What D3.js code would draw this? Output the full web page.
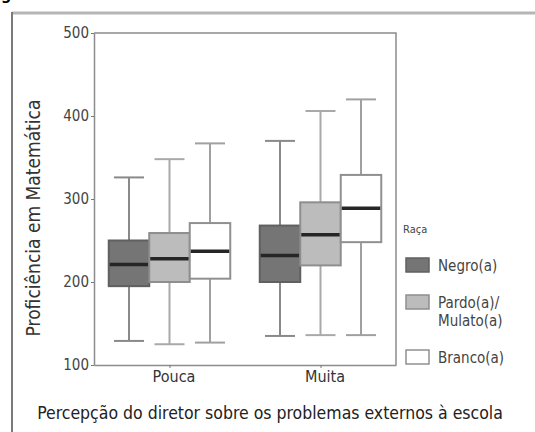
<!DOCTYPE html>
<html>
<head>
<meta charset="utf-8">
<script src="https://cdn.jsdelivr.net/npm/d3@7"></script>
<style>
  body { margin: 0; background: #fff; }
  svg text { font-family: "DejaVu Sans", sans-serif; font-stretch: condensed; }
</style>
</head>
<body>
<div id="chart"></div>
<script>
// categories and series
var groups = [ 'Pouca', 'Muita' ];
var races = [ 'Negro', 'Pardo', 'Branco' ];
var legendLabels = [ [ 'Negro(a)' ], [ 'Pardo(a)/', 'Mulato(a)' ], [ 'Branco(a)' ] ];
var yTicks = [ 100, 200, 300, 400, 500 ];

// box statistics per race, one value per group (Pouca, Muita)
var whiskerLow = { Negro: [ 129, 135 ], Pardo: [ 125, 136 ], Branco: [ 127, 136 ] };
var q1 = { Negro: [ 195, 200 ], Pardo: [ 200, 220 ], Branco: [ 204, 248 ] };
var median = { Negro: [ 221, 232 ], Pardo: [ 228, 257 ], Branco: [ 237, 289 ] };
var q3 = { Negro: [ 250, 268 ], Pardo: [ 259, 296 ], Branco: [ 271, 329 ] };
var whiskerHigh = { Negro: [ 326, 370 ], Pardo: [ 348, 406 ], Branco: [ 367, 420 ] };

var fills = { Negro: '#757575', Pardo: '#bcbcbc', Branco: '#ffffff' };
var strokes = { Negro: '#606060', Pardo: '#8e8e8e', Branco: '#909090' };
var whiskerColors = { Negro: '#8a8a8a', Pardo: '#a9a9a9', Branco: '#a0a0a0' };

var W = 535, H = 432;
var margin = { top: 33, right: 139, bottom: 67, left: 94 };
var width = W - margin.left - margin.right,
    height = H - margin.top - margin.bottom;

var svg = d3.select( '#chart' ).append( 'svg' )
    .attr( 'width', W )
    .attr( 'height', H );

// outer frame (cropped figure border)
svg.append( 'line' ).attr( 'x1', 12 ).attr( 'x2', W ).attr( 'y1', 13 ).attr( 'y2', 13 )
  .style( 'stroke', '#b5b5b5' ).style( 'stroke-width', 3 );
svg.append( 'line' ).attr( 'x1', 12 ).attr( 'x2', 12 ).attr( 'y1', 12 ).attr( 'y2', H )
  .style( 'stroke', '#7a7a7a' ).style( 'stroke-width', 2 );
// bottom of a caption letter cut off by the crop
svg.append( 'text' ).attr( 'x', 1 ).attr( 'y', 0 )
  .style( 'font-size', '16px' ).style( 'font-weight', 'bold' ).text( 'g' );

var g = svg.append( 'g' )
    .attr( 'transform', 'translate(' + margin.left + ',' + margin.top + ')' );

var x = d3.scalePoint()
    .domain( groups )
    .range( [ 0, width ] )
    .padding( 0.5 );

var boxW = 40.5;
var xInner = d3.scaleBand()
    .domain( races )
    .range( [ -1.5 * boxW, 1.5 * boxW ] );

var y = d3.scaleLinear()
    .domain( [ 100, 500 ] )
    .range( [ height, 0 ] );

// plot box (top and right)
g.append( 'path' )
  .attr( 'd', 'M0,0H' + width + 'V' + height )
  .style( 'fill', 'none' ).style( 'stroke', '#8c8c8c' ).style( 'stroke-width', 1.5 );

// y axis
var yAxis = g.append( 'g' )
  .call( d3.axisLeft( y ).tickValues( yTicks ).tickSize( 3 ).tickSizeOuter( 0 ) );
yAxis.select( '.domain' ).style( 'stroke', '#8c8c8c' ).style( 'stroke-width', 1.5 );
yAxis.selectAll( 'line' ).style( 'stroke', '#777' );
yAxis.selectAll( 'text' )
  .attr( 'x', -5 )
  .style( 'font-size', '15px' ).style( 'fill', '#444' );

// x axis
var xAxis = g.append( 'g' )
  .attr( 'transform', 'translate(0,' + height + ')' )
  .call( d3.axisBottom( x ).tickSize( 3 ).tickSizeOuter( 0 ) );
xAxis.select( '.domain' ).style( 'stroke', '#8c8c8c' ).style( 'stroke-width', 1.5 );
xAxis.selectAll( 'line' ).style( 'stroke', '#777' );
xAxis.selectAll( 'text' )
  .attr( 'y', 6 )
  .attr( 'dx', 4 )
  .style( 'font-size', '16px' ).style( 'fill', '#333' );

// boxes
races.forEach( function( race ) {
  groups.forEach( function( grp, i ) {
    var x0 = x( grp ) + xInner( race );
    var cx = x0 + boxW / 2;
    var capW = 30;

    // whisker stem
    g.append( 'line' )
      .attr( 'x1', cx ).attr( 'x2', cx )
      .attr( 'y1', y( whiskerLow[race][i] ) ).attr( 'y2', y( whiskerHigh[race][i] ) )
      .style( 'stroke', whiskerColors[race] ).style( 'stroke-width', 2 );
    // caps
    [ whiskerLow[race][i], whiskerHigh[race][i] ].forEach( function( v ) {
      g.append( 'line' )
        .attr( 'x1', cx - capW / 2 ).attr( 'x2', cx + capW / 2 )
        .attr( 'y1', y( v ) ).attr( 'y2', y( v ) )
        .style( 'stroke', whiskerColors[race] ).style( 'stroke-width', 2 );
    } );
    // box
    g.append( 'rect' )
      .attr( 'x', x0 ).attr( 'width', boxW )
      .attr( 'y', y( q3[race][i] ) )
      .attr( 'height', y( q1[race][i] ) - y( q3[race][i] ) )
      .style( 'fill', fills[race] ).style( 'stroke', strokes[race] ).style( 'stroke-width', 2 );
    // median
    g.append( 'line' )
      .attr( 'x1', x0 + 1 ).attr( 'x2', x0 + boxW - 1 )
      .attr( 'y1', y( median[race][i] ) ).attr( 'y2', y( median[race][i] ) )
      .style( 'stroke', '#262626' ).style( 'stroke-width', 3.5 );
  } );
} );

// axis titles
svg.append( 'text' )
  .attr( 'transform', 'translate(40,' + 218 + ') rotate(-90)' )
  .attr( 'text-anchor', 'middle' )
  .style( 'font-size', '19px' ).style( 'fill', '#333' )
  .text( 'Proficiência em Matemática' );

svg.append( 'text' )
  .attr( 'x', 270 ).attr( 'y', 419 )
  .attr( 'text-anchor', 'middle' )
  .style( 'font-size', '17.5px' ).style( 'fill', '#222' )
  .text( 'Percepção do diretor sobre os problemas externos à escola' );

// legend
var legend = svg.append( 'g' ).attr( 'transform', 'translate(404,0)' );
legend.append( 'text' ).attr( 'x', -1 ).attr( 'y', 233 )
  .style( 'font-size', '11px' ).style( 'fill', '#444' ).text( 'Raça' );
var legendY = [ 258, 295, 350 ];
races.forEach( function( race, i ) {
  legend.append( 'rect' )
    .attr( 'x', 2 ).attr( 'y', legendY[i] )
    .attr( 'width', 23 ).attr( 'height', 14 )
    .style( 'fill', fills[race] ).style( 'stroke', strokes[race] ).style( 'stroke-width', 1.5 );
  var t = legend.append( 'text' )
    .attr( 'x', 34 ).attr( 'y', legendY[i] + 13 )
    .style( 'font-size', '15px' ).style( 'fill', '#444' );
  legendLabels[i].forEach( function( line, j ) {
    t.append( 'tspan' ).attr( 'x', 34 ).attr( 'dy', j === 0 ? 0 : 18 ).text( line );
  } );
} );
</script>
</body>
</html>
